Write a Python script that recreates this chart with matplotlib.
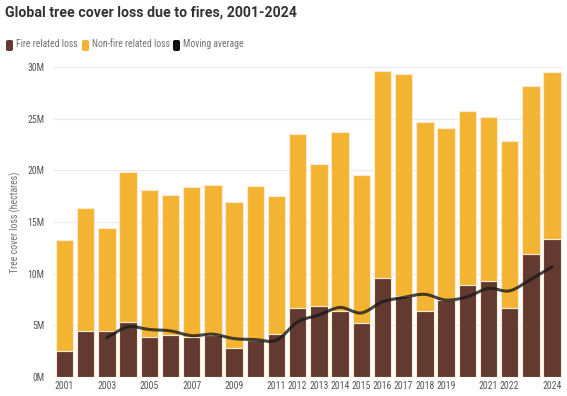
import matplotlib.pyplot as plt
from matplotlib.patches import FancyBboxPatch, PathPatch
from matplotlib.path import Path
from matplotlib import font_manager

years = list(range(2001, 2025))
# values in millions of hectares
fire_loss = [2.5, 4.5, 4.5, 5.33, 3.85, 4.1, 3.9, 4.1, 2.8, 3.6, 4.2, 6.67,
             6.9, 6.35, 5.24, 9.54, 7.86, 6.4, 7.5, 8.86, 9.28, 6.7, 11.87, 13.4]
total_loss = [13.26, 16.4, 14.45, 19.85, 18.05, 17.6, 18.37, 18.56, 16.95, 18.5, 17.5, 23.5,
              20.6, 23.7, 19.56, 29.6, 29.3, 24.7, 24.1, 25.74, 25.2, 22.8, 28.2, 29.5]
nonfire_loss = [t - f for t, f in zip(total_loss, fire_loss)]
avg_years = list(range(2003, 2025))
moving_avg = [3.8, 4.85, 4.6, 4.46, 4.0, 4.14, 3.72, 3.62, 3.56, 5.33, 6.0,
              6.73, 6.2, 7.27, 7.7, 8.0, 7.44, 7.76, 8.57, 8.34, 9.45, 10.67]
tick_years = [2001, 2003, 2005, 2007, 2009, 2011, 2012, 2013, 2014, 2015, 2016,
              2017, 2018, 2019, 2021, 2022, 2024]

names = {f.name for f in font_manager.fontManager.ttflist}
label_font = next((n for n in ['Roboto Condensed', 'Archivo Narrow', 'Sofia Sans Condensed']
                   if n in names), 'DejaVu Sans')

FIRE = '#633a2f'
NONFIRE = '#f4b433'
GRAY = '#707070'


def smooth_path(xs, ys):
    # Catmull-Rom style bezier handles through the data points
    verts = [(xs[0], ys[0])]
    codes = [Path.MOVETO]
    n = len(xs)
    for i in range(n - 1):
        x0, y0 = (xs[i - 1], ys[i - 1]) if i > 0 else (xs[i], ys[i])
        x1, y1 = xs[i], ys[i]
        x2, y2 = xs[i + 1], ys[i + 1]
        x3, y3 = (xs[i + 2], ys[i + 2]) if i + 2 < n else (x2, y2)
        c1 = (x1 + (x2 - x0) / 6, y1 + (y2 - y0) / 6)
        c2 = (x2 - (x3 - x1) / 6, y2 - (y3 - y1) / 6)
        verts += [c1, c2, (x2, y2)]
        codes += [Path.CURVE4] * 3
    return Path(verts, codes)


fig = plt.figure(figsize=(5.67, 3.96), dpi=100)
ax = fig.add_axes([53 / 567, 1 - 377 / 396, (562 - 53) / 567, (377 - 67) / 396])

x = [y - 2001 for y in years]
ax.bar(x, fire_loss, width=0.82, color=FIRE, edgecolor='#fbe9d0', linewidth=0.8, zorder=2)
ax.bar(x, nonfire_loss, bottom=fire_loss, width=0.82, color=NONFIRE,
       edgecolor='#fbe9d0', linewidth=0.8, zorder=2)
ax.add_patch(PathPatch(smooth_path([y - 2001 for y in avg_years], moving_avg),
                       facecolor='none', edgecolor='#1a1a1a', alpha=0.8,
                       linewidth=2.2, capstyle='round', zorder=3))

ax.set_xlim(-0.54, 23.47)
ax.set_ylim(0, 30)
ax.set_yticks(range(0, 31, 5))
ax.set_yticklabels([f'{v}M' for v in range(0, 31, 5)])
ax.set_xticks([y - 2001 for y in tick_years])
ax.set_xticklabels([str(y) for y in tick_years])
ax.grid(axis='y', color='#ebebeb', linewidth=0.9, zorder=0)
ax.set_axisbelow(True)
for s in ax.spines.values():
    s.set_visible(False)
ax.tick_params(length=0, labelsize=7, labelcolor='#555555', pad=6)
ax.tick_params(axis='x', pad=3)
for lab in ax.get_xticklabels() + ax.get_yticklabels():
    lab.set_fontfamily(label_font)
ax.set_ylabel('Tree cover loss (hectares)', fontsize=7, color=GRAY,
              fontfamily=label_font, labelpad=5)

fig.text(5 / 567, 1 - 13 / 396, 'Global tree cover loss due to fires, 2001-2024',
         fontsize=10.2, fontweight='bold', color='#333333', fontfamily='Roboto',
         va='center', ha='left')

# legend row
items = [(FIRE, 'Fire related loss', 6), (NONFIRE, 'Non-fire related loss', 82),
         ('#111111', 'Moving average', 173)]
for col, txt, px in items:
    fig.patches.append(FancyBboxPatch((px / 567, 1 - 51 / 396), 7 / 567, 11 / 396,
                                      boxstyle='round,pad=0,rounding_size=0.004',
                                      transform=fig.transFigure, facecolor=col,
                                      edgecolor='none'))
    fig.text((px + 10) / 567, 1 - 44 / 396, txt, fontsize=6.9, color=GRAY,
             fontfamily=label_font, va='center', ha='left')

fig.savefig('out.png', dpi=100)
